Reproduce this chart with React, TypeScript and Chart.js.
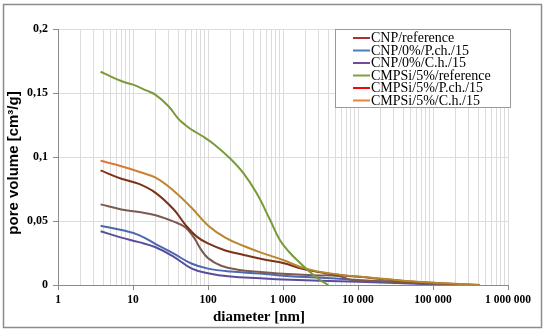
import React, { useEffect, useRef } from 'react';
import { Chart, registerables } from 'chart.js';

Chart.register(...registerables);

// ---- axis ticks ----
const xMajorTicks = [1, 10, 100, 1000, 10000, 100000, 1000000];
const xTickLabels = ['1', '10', '100', '1 000', '10 000', '100 000', '1 000 000'];
const xMinorSteps = [2, 3, 4, 5, 6, 7, 8, 9];
const yTicks = [0, 0.05, 0.1, 0.15, 0.2];
const yTickLabels = ['0', '0,05', '0,1', '0,15', '0,2'];

const xTitle = 'diameter [nm]';
const yTitle = 'pore volume [cm³/g]';

// ---- series ----
const seriesNames = [
  'CNP/reference',
  'CNP/0%/P.ch./15',
  'CNP/0%/C.h./15',
  'CMPSi/5%/reference',
  'CMPSi/5%/P.ch./15',
  'CMPSi/5%/C.h./15',
];
const legendColors = ['#B0302E', '#4480BE', '#6E4E9C', '#7CA23E', '#FF0000', '#E8823C'];
const lineColors = ['#7B3216', '#4B68B0', '#5A4E9C', '#7A9A3A', '#7D5A4E', '#B8862E'];

// CNP/reference
const cnpRefD = [3.7, 7, 12, 20, 35, 50, 70, 100, 170, 300, 600, 1000, 2000, 5000, 15000, 40000, 100000, 200000, 420000];
const cnpRefV = [0.0895, 0.083, 0.079, 0.072, 0.059, 0.047, 0.038, 0.0325, 0.027, 0.0235, 0.0195, 0.0172, 0.012, 0.0082, 0.0055, 0.0032, 0.0017, 0.0008, 0];
// CNP/0%/P.ch./15
const cnpPchD = [3.7, 7, 12, 20, 35, 60, 100, 200, 500, 1000, 5000, 20000, 100000, 200000];
const cnpPchV = [0.0463, 0.043, 0.039, 0.032, 0.0245, 0.0168, 0.0128, 0.0105, 0.009, 0.0072, 0.005, 0.003, 0.0008, 0];
// CNP/0%/C.h./15
const cnpChD = [3.7, 7, 12, 20, 35, 60, 100, 200, 500, 1000, 10000, 100000, 200000];
const cnpChV = [0.042, 0.037, 0.0335, 0.0295, 0.022, 0.013, 0.0092, 0.0066, 0.0052, 0.0042, 0.0025, 0.0005, 0];
// CMPSi/5%/reference
const cmpRefD = [3.7, 5, 7.4, 10, 15, 20, 30, 40, 50, 60, 86, 120, 196, 300, 446, 671, 912, 1200, 1600, 2200, 3000, 4000];
const cmpRefV = [0.1666, 0.163, 0.1588, 0.1565, 0.152, 0.1485, 0.1395, 0.13, 0.125, 0.1215, 0.116, 0.11, 0.099, 0.087, 0.0716, 0.051, 0.035, 0.026, 0.0185, 0.011, 0.0045, 0];
// CMPSi/5%/P.ch./15
const cmpPchD = [3.7, 7, 12, 20, 35, 50, 65, 80, 100, 150, 250, 500, 1000, 2500, 5500, 8000, 20000, 100000, 200000];
const cmpPchV = [0.063, 0.059, 0.057, 0.0545, 0.0495, 0.045, 0.037, 0.028, 0.021, 0.015, 0.012, 0.0102, 0.0088, 0.0076, 0.007, 0.004, 0.003, 0.001, 0];
// CMPSi/5%/C.h./15
const cmpChD = [3.7, 7, 12, 20, 35, 60, 100, 170, 300, 500, 1000, 2000, 5000, 15000, 40000, 100000, 200000, 420000];
const cmpChV = [0.097, 0.0928, 0.0885, 0.0838, 0.0735, 0.0605, 0.0465, 0.037, 0.0305, 0.0255, 0.0195, 0.0128, 0.0085, 0.0056, 0.0034, 0.0018, 0.0009, 0];

const seriesD = [cnpRefD, cnpPchD, cnpChD, cmpRefD, cmpPchD, cmpChD];
const seriesV = [cnpRefV, cnpPchV, cnpChV, cmpRefV, cmpPchV, cmpChV];

const serif = '"Liberation Serif", "Times New Roman", serif';
const sans = '"Liberation Sans", Arial, sans-serif';

const decorPlugin = {
  id: 'decor',
  afterDraw(chart: any) {
    const c = chart.ctx as CanvasRenderingContext2D;
    c.save();
    // outer frame
    c.strokeStyle = '#8c8c8c';
    c.lineWidth = 1.5;
    c.strokeRect(3.5, 4.5, 538, 323);

    // axis titles
    c.fillStyle = '#000';
    c.textAlign = 'center';
    c.textBaseline = 'middle';
    c.font = `bold 15px ${serif}`;
    c.fillText(xTitle, 259, 317);
    c.save();
    c.translate(14, 163);
    c.rotate(-Math.PI / 2);
    c.font = `bold 15px ${sans}`;
    c.fillText(yTitle, 0, 0);
    c.restore();

    // legend
    const lx = 335, ly = 29, lw = 175, lh = 78;
    c.fillStyle = '#fff';
    c.fillRect(lx, ly, lw, lh);
    c.strokeStyle = '#9a9a9a';
    c.lineWidth = 1;
    c.strokeRect(lx + 0.5, ly + 0.5, lw, lh);
    c.font = `14px ${serif}`;
    c.textAlign = 'left';
    seriesNames.forEach((name, i) => {
      const y = 38 + i * 12.5;
      c.strokeStyle = legendColors[i];
      c.lineWidth = 2;
      c.beginPath();
      c.moveTo(353, y);
      c.lineTo(370, y);
      c.stroke();
      c.fillStyle = '#000';
      c.fillText(name, 371, y + 0.5);
    });
    c.restore();
  },
};

export default function App() {
  const ref = useRef<HTMLCanvasElement | null>(null);

  useEffect(() => {
    document.body.style.margin = '0';
    document.body.style.background = '#fff';
    const canvas = ref.current;
    if (!canvas) return;

    const orangeGradient = (ctx: any) => {
      const chart = ctx.chart;
      const g = chart.ctx.createLinearGradient(100, 0, 175, 0);
      g.addColorStop(0, '#E6743A');
      g.addColorStop(1, lineColors[5]);
      return g;
    };

    const datasets = seriesNames.map((name, i) => ({
      label: name,
      data: seriesD[i].map((d, j) => ({ x: d, y: seriesV[i][j] })),
      borderColor: i === 5 ? orangeGradient : lineColors[i],
      backgroundColor: lineColors[i],
      borderWidth: 2,
      pointRadius: 0,
      tension: 0.4,
      fill: false,
    }));
    const order = [3, 5, 0, 4, 1, 2];
    const ordered = order.map((k) => datasets[k]);

    const chart = new Chart(canvas, {
      type: 'line',
      data: { datasets: ordered as any },
      options: {
        animation: false,
        responsive: false,
        devicePixelRatio: 1,
        layout: { padding: { left: 0, right: 42, top: 29, bottom: 0 } },
        plugins: { legend: { display: false }, tooltip: { enabled: false } },
        scales: {
          x: {
            type: 'logarithmic',
            min: 1,
            max: 1000000,
            afterBuildTicks: (scale: any) => {
              const t: any[] = [];
              xMajorTicks.forEach((m, i) => {
                t.push({ value: m, major: true });
                if (i < xMajorTicks.length - 1) xMinorSteps.forEach((s) => t.push({ value: m * s, major: false }));
              });
              scale.ticks = t;
            },
            afterFit: (scale: any) => {
              scale.height = 50;
            },
            ticks: {
              autoSkip: false,
              maxRotation: 0,
              minRotation: 0,
              padding: 3,
              color: '#000',
              font: { family: serif, size: 11.5, weight: 'bold' },
              callback: (value: any) => {
                const i = xMajorTicks.indexOf(Number(value));
                return i >= 0 ? xTickLabels[i] : '';
              },
            },
            grid: {
              color: '#dcdcdc',
              lineWidth: 1,
              tickLength: 5,
              tickColor: (ctx: any) => (ctx.tick && ctx.tick.major ? '#8a8a8a' : 'rgba(0,0,0,0)'),
            },
            border: { color: '#8a8a8a', width: 1 },
          },
          y: {
            type: 'linear',
            min: 0,
            max: 0.2,
            afterBuildTicks: (scale: any) => {
              scale.ticks = yTicks.map((v) => ({ value: v }));
            },
            afterFit: (scale: any) => {
              scale.width = 58;
            },
            ticks: {
              padding: 5,
              color: '#000',
              font: { family: serif, size: 12, weight: 'bold' },
              callback: (_v: any, i: number) => yTickLabels[i],
            },
            grid: {
              color: '#dcdcdc',
              lineWidth: 1,
              tickLength: 5,
              tickColor: '#8a8a8a',
            },
            border: { color: '#8a8a8a', width: 1 },
          },
        },
      },
      plugins: [decorPlugin],
    });

    return () => {
      chart.destroy();
    };
  }, []);

  return (
    <div style={{ width: 550, height: 335, position: 'relative', background: '#fff' }}>
      <canvas ref={ref} width={550} height={335} style={{ display: 'block', width: 550, height: 335 }} />
    </div>
  );
}
